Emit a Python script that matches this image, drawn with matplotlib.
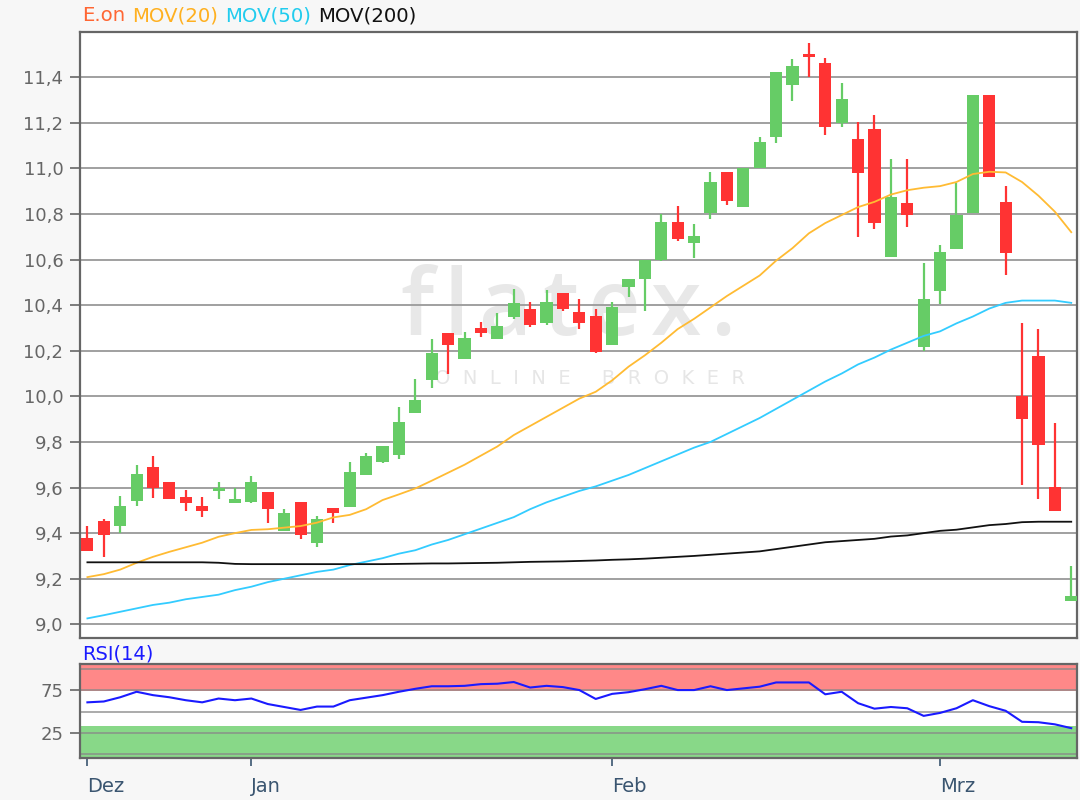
import numpy as np
import matplotlib
matplotlib.use("Agg")
import matplotlib.pyplot as plt

plt.rcParams['font.family'] = ['DejaVu Sans']

# E.on daily candles (open, high, low, close), Dez - Mrz
opens = [9.38, 9.455, 9.43, 9.54, 9.69, 9.625, 9.557, 9.52, 9.586, 9.533,
         9.538, 9.58, 9.41, 9.538, 9.355, 9.511, 9.513, 9.655, 9.713, 9.743,
         9.925, 10.07, 10.276, 10.164, 10.30, 10.251, 10.347, 10.382, 10.32, 10.452,
         10.371, 10.354, 10.225, 10.481, 10.514, 10.598, 10.766, 10.674, 10.803, 10.985,
         10.83, 11.0, 11.136, 11.365, 11.503, 11.46, 11.20, 11.127, 11.171, 10.61,
         10.847, 10.215, 10.462, 10.646, 10.803, 11.322, 10.853, 10.0, 10.177, 9.601,
         9.102]
highs = [9.43, 9.46, 9.565, 9.70, 9.74, 9.625, 9.59, 9.557, 9.625, 9.60,
         9.652, 9.58, 9.504, 9.538, 9.476, 9.511, 9.713, 9.75, 9.783, 9.952,
         10.075, 10.25, 10.276, 10.283, 10.327, 10.364, 10.469, 10.415, 10.466, 10.452,
         10.425, 10.382, 10.415, 10.513, 10.60, 10.798, 10.836, 10.756, 10.985, 10.985,
         11.0, 11.136, 11.424, 11.478, 11.548, 11.485, 11.373, 11.205, 11.234, 11.039,
         11.039, 10.583, 10.664, 10.937, 11.322, 11.322, 10.922, 10.32, 10.294, 9.881,
         9.257]
lows = [9.32, 9.295, 9.40, 9.52, 9.555, 9.55, 9.497, 9.472, 9.55, 9.533,
        9.53, 9.443, 9.41, 9.374, 9.338, 9.443, 9.513, 9.655, 9.706, 9.724,
        9.925, 10.035, 10.10, 10.164, 10.26, 10.251, 10.338, 10.305, 10.313, 10.375,
        10.294, 10.189, 10.225, 10.437, 10.374, 10.594, 10.681, 10.605, 10.778, 10.839,
        10.83, 11.0, 11.11, 11.295, 11.40, 11.146, 11.18, 10.697, 10.733, 10.61,
        10.741, 10.20, 10.404, 10.646, 10.803, 10.963, 10.532, 9.611, 9.548, 9.497,
        9.102]
closes = [9.32, 9.39, 9.52, 9.66, 9.60, 9.55, 9.533, 9.498, 9.592, 9.548,
          9.625, 9.505, 9.487, 9.392, 9.46, 9.487, 9.669, 9.739, 9.783, 9.889,
          9.984, 10.19, 10.225, 10.257, 10.276, 10.308, 10.408, 10.313, 10.415, 10.382,
          10.32, 10.196, 10.39, 10.513, 10.60, 10.766, 10.689, 10.704, 10.941, 10.856,
          11.0, 11.117, 11.424, 11.45, 11.49, 11.182, 11.303, 10.978, 10.759, 10.873,
          10.795, 10.425, 10.634, 10.795, 11.322, 10.963, 10.63, 9.899, 9.786, 9.497,
          9.125]

mov20 = [9.207, 9.22, 9.24, 9.27, 9.296, 9.318, 9.338, 9.358, 9.384, 9.40,
         9.414, 9.417, 9.424, 9.431, 9.446, 9.469, 9.48, 9.505, 9.545, 9.57,
         9.596, 9.63, 9.665, 9.70, 9.74, 9.78, 9.83, 9.87, 9.91, 9.95,
         9.99, 10.02, 10.07, 10.13, 10.18, 10.235, 10.295, 10.34, 10.39, 10.44,
         10.485, 10.53, 10.595, 10.65, 10.715, 10.76, 10.795, 10.83, 10.853, 10.885,
         10.904, 10.915, 10.922, 10.94, 10.975, 10.985, 10.982, 10.94, 10.88, 10.81,
         10.72]
mov50 = [9.026, 9.04, 9.055, 9.07, 9.085, 9.095, 9.11, 9.12, 9.13, 9.15,
         9.165, 9.185, 9.20, 9.215, 9.23, 9.24, 9.26, 9.275, 9.29, 9.31,
         9.325, 9.35, 9.37, 9.395, 9.42, 9.445, 9.47, 9.505, 9.535, 9.56,
         9.585, 9.605, 9.63, 9.655, 9.685, 9.715, 9.745, 9.775, 9.80, 9.835,
         9.87, 9.905, 9.945, 9.985, 10.025, 10.065, 10.10, 10.14, 10.17, 10.205,
         10.235, 10.265, 10.285, 10.32, 10.35, 10.385, 10.41, 10.42, 10.42, 10.42,
         10.41]
mov200 = [9.272, 9.272, 9.272, 9.272, 9.272, 9.272, 9.272, 9.272, 9.27, 9.265,
          9.264, 9.264, 9.264, 9.264, 9.264, 9.264, 9.264, 9.264, 9.264, 9.265,
          9.266, 9.267, 9.267, 9.268, 9.269, 9.27, 9.272, 9.274, 9.275, 9.276,
          9.278, 9.28, 9.283, 9.285, 9.288, 9.292, 9.296, 9.30, 9.305, 9.31,
          9.315, 9.32, 9.33, 9.34, 9.35, 9.36, 9.365, 9.37, 9.375, 9.385,
          9.39, 9.40, 9.41, 9.415, 9.425, 9.435, 9.44, 9.448, 9.45, 9.45,
          9.45]
rsi = [61, 62, 67, 73.5, 69.5, 67, 63.5, 61, 65.5, 63.5,
       65.5, 59, 55.5, 52, 56, 56, 63.5, 66.5, 69.5, 73.5,
       77, 80, 80, 80.5, 82.5, 83, 85, 78.5, 80.5, 79,
       75.5, 65, 71, 73, 76.5, 80.5, 75.5, 75.5, 80, 75.5,
       77.5, 79.5, 84.5, 84.5, 84.5, 70.5, 73.5, 60, 53.5, 55.5,
       54, 45, 48.5, 54, 63.5, 56.5, 51, 38, 37.5, 35,
       30.5]

month_pos = [0, 10, 32, 52]
month_labels = ['Dez', 'Jan', 'Feb', 'Mrz']
price_ticks = [9.0, 9.2, 9.4, 9.6, 9.8, 10.0, 10.2, 10.4, 10.6, 10.8, 11.0, 11.2, 11.4]

o = np.array(opens); h = np.array(highs); l = np.array(lows); c = np.array(closes)
x = np.arange(len(o))
up = c >= o
cols = np.where(up, '#66cc66', '#ff3333')

fig = plt.figure(figsize=(10.8, 8), dpi=100, facecolor='#f7f7f7')
ax = fig.add_axes([0.0741, 0.2025, 0.9231, 0.7575])
ax2 = fig.add_axes([0.0741, 0.0529, 0.9231, 0.1171])

# candles
ax.vlines(x, l, h, colors=cols, lw=1.6, zorder=3)
body = np.maximum(np.abs(c - o), 0.012)
ax.bar(x, body, bottom=np.minimum(o, c), width=0.74, color=cols, zorder=4)

ax.plot(x, mov20, color='#ffbb33', lw=1.3, zorder=5)
ax.plot(x, mov50, color='#33ccff', lw=1.3, zorder=5)
ax.plot(x, mov200, color='#111111', lw=1.3, zorder=5)

ax.set_xlim(-0.45, 60.35)
ax.set_ylim(8.94, 11.598)
ax.set_yticks(price_ticks)
ax.set_yticklabels([f'{v:.1f}'.replace('.', ',') for v in price_ticks])
ax.set_xticks([])
ax.grid(axis='y', color='#a0a0a0', lw=1.4)
ax.set_axisbelow(True)

# RSI panel
ax2.axhspan(74.5, 110, color='#ff8888', zorder=0, lw=0)
ax2.axhspan(-10, 33.4, color='#88d888', zorder=0, lw=0)
for g in [0, 25, 50, 75, 100]:
    ax2.axhline(g, color='#888888', lw=1.4, alpha=0.7, zorder=1)
ax2.plot(x, rsi, color='#1a1aff', lw=1.5, zorder=3)
ax2.set_xlim(-0.45, 60.35)
ax2.set_ylim(-4.4, 106.3)
ax2.set_yticks([25, 75])
ax2.set_xticks(month_pos)
ax2.set_xticklabels(month_labels, ha='left')

for a in (ax, ax2):
    for s in a.spines.values():
        s.set_color('#666666')
        s.set_linewidth(1.6)
    a.tick_params(axis='y', colors='#666666', labelsize=13, length=7, width=1.2, pad=5)
ax2.tick_params(axis='x', colors='#3a5570', labelsize=14, length=6, width=1.2, pad=8)
for t in ax2.get_xticklabels():
    t.set_color('#3a5570')

fig.canvas.draw()
rend = fig.canvas.get_renderer()

# watermark, letters spread out one by one (pixel coords -> axes coords)
def ax_frac(px, py):
    return (px - 80) / 997, (638 - py) / 606

xp = 400
for ch in 'flatex.':
    fx, fy = ax_frac(xp, 335)
    t = ax.text(fx, fy, ch, transform=ax.transAxes, ha='left', va='baseline',
                fontsize=66, color='#e8e8e8', zorder=0.1, fontweight='semibold',
                family=['Open Sans', 'DejaVu Sans'])
    xp = t.get_window_extent(rend).x1 + 10

fx, fy = ax_frac(590, 378)
ax.text(fx, fy, 'O  N  L  I  N  E     B  R  O  K  E  R', transform=ax.transAxes,
        ha='center', va='center', fontsize=14, color='#e6e6e6', zorder=0.1)

# legend-style title, words placed one after another
xpos = 82
for word, col in [('E.on', '#ff6633'), ('MOV(20)', '#ffb020'),
                  ('MOV(50)', '#22ccee'), ('MOV(200)', '#111111')]:
    t = fig.text(xpos / 1080, 1 - 21 / 800, word, color=col, fontsize=14.2, va='baseline')
    xpos = t.get_window_extent(rend).x1 + 7

fig.text(82 / 1080, 1 - 659 / 800, 'RSI(14)', color='#1a1aff', fontsize=14, va='baseline')

fig.savefig('out.png', dpi=100, facecolor=fig.get_facecolor())
